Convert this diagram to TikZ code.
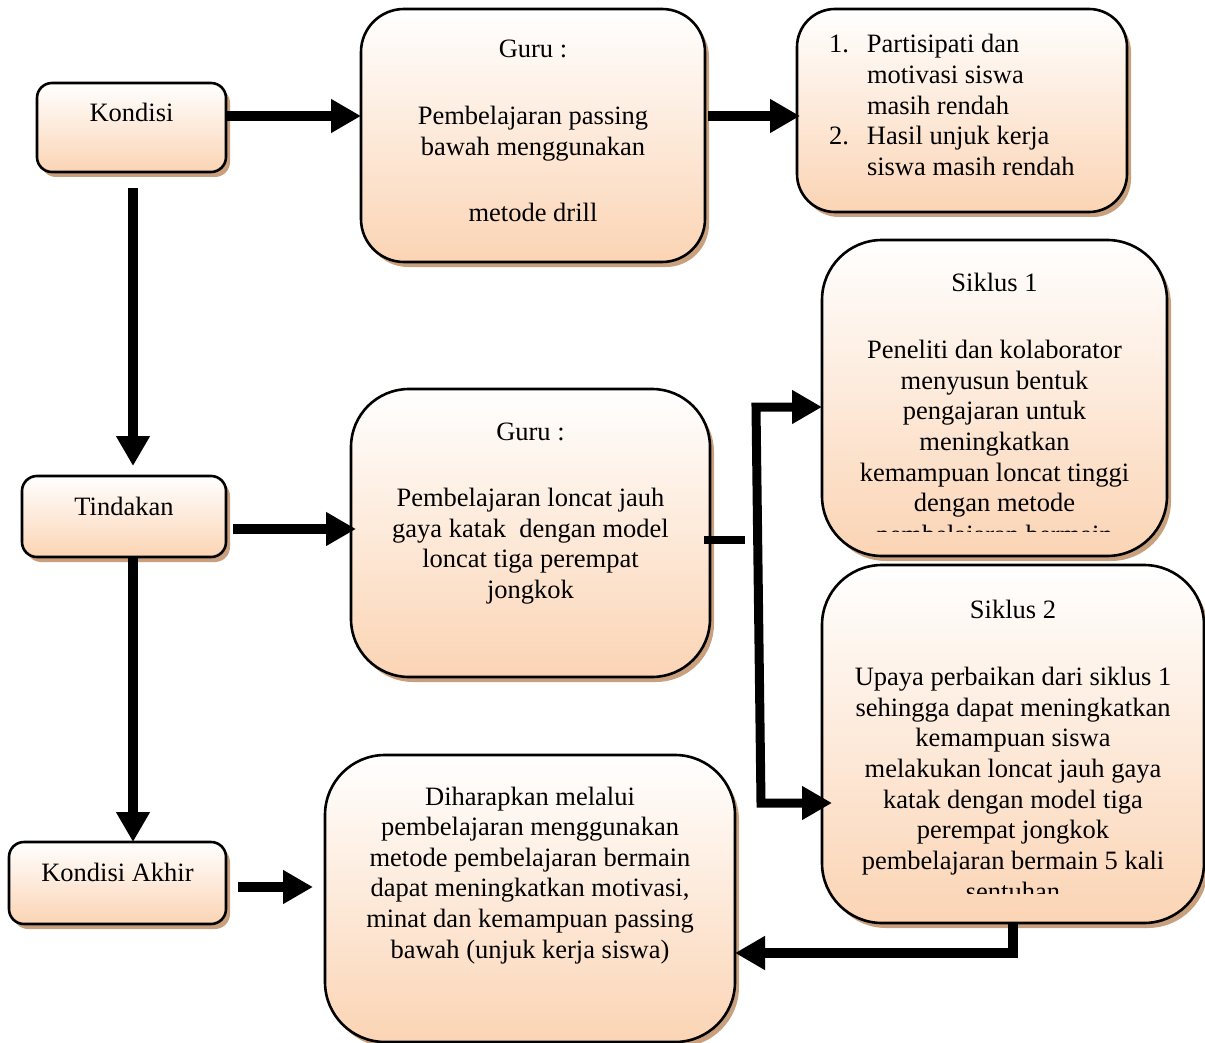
\documentclass[tikz,border=0pt]{standalone}
\usepackage{fontspec}
\setmainfont{Liberation Serif}
\usetikzlibrary{arrows.meta,shadows,calc}
\definecolor{peach}{RGB}{251,212,180}
\definecolor{shadowc}{RGB}{201,160,126}
\newcommand{\bx}[4]{\parbox[t][#2][t]{#1}{\centering\rule{0pt}{#3}#4}}
\tikzset{
  bigtip/.tip={Triangle[length=30pt,width=32pt]},
  txt/.style={inner sep=0pt, outer sep=0pt, font=\fontsize{26.5}{30.6}\selectfont},
  box/.style={txt, draw=black, line width=2.6pt, top color=white, bottom color=peach,
    drop shadow={shadow xshift=4pt, shadow yshift=-5pt, fill=shadowc, opacity=1}},
  arr/.style={line width=10pt, line join=miter, -{bigtip}},
}
\begin{document}
\begin{tikzpicture}[x=1pt,y=-1pt]
\useasboundingbox (0,0) rectangle (1205,1043);

% boxes
\node[box, rounded corners=15pt] (kondisi) at (131.5,127.5) {\bx{189pt}{89pt}{39pt}{Kondisi}};
\node[box, rounded corners=43pt] (guru1) at (533,135.5)
  {\bx{344pt}{253pt}{49pt}{Guru :\\[36pt]Pembelajaran passing\\bawah menggunakan\\[36pt]metode drill}};
\node[box, rounded corners=38pt] (masalah) at (962,110.5)
  {\parbox[t][203pt][t]{330pt}{\raggedright\rule{0pt}{44pt}\hspace*{32pt}\makebox[38pt][l]{1.}Partisipati dan\\
   \hspace*{70pt}motivasi siswa\\
   \hspace*{70pt}masih rendah\\
   \hspace*{32pt}\makebox[38pt][l]{2.}Hasil unjuk kerja\\
   \hspace*{70pt}siswa masih rendah}};
\node[box, rounded corners=15pt] (tindakan) at (124,516.5) {\bx{204pt}{81pt}{39pt}{Tindakan}};
\node[box, rounded corners=58pt] (guru2) at (530.5,533)
  {\bx{359pt}{288pt}{51pt}{Guru :\\[36pt]Pembelajaran loncat jauh\\gaya katak~ dengan model\\loncat tiga perempat\\jongkok}};
\node[box, rounded corners=60pt] (siklus1) at (994.5,398)
  {\bx{345pt}{316pt}{51pt}{Siklus 1\\[37pt]Peneliti dan kolaborator\\menyusun bentuk\\pengajaran untuk\\meningkatkan\\kemampuan loncat tinggi\\dengan metode}};
\node[box, rounded corners=60pt] (siklus2) at (1013,744)
  {\bx{382pt}{358pt}{53pt}{Siklus 2\\[37pt]Upaya perbaikan dari siklus 1\\sehingga dapat meningkatkan\\kemampuan siswa\\melakukan loncat jauh gaya\\katak dengan model tiga\\perempat jongkok\\pembelajaran bermain 5 kali}};
\node[box, rounded corners=15pt] (kakhir) at (117.5,883) {\bx{217pt}{82pt}{39pt}{Kondisi Akhir}};
\node[box, rounded corners=60pt] (final) at (530,898.5)
  {\bx{410pt}{287pt}{50pt}{Diharapkan melalui\\pembelajaran menggunakan\\metode pembelajaran bermain\\dapat meningkatkan motivasi,\\minat dan kemampuan passing\\bawah (unjuk kerja siswa)}};

% clipped overflow lines
\begin{scope}
  \clip (822,240) rectangle (1167,531);
  \node[txt, anchor=base] (s1cut) at (994.5,543) {pembelajaran bermain};
\end{scope}
\begin{scope}
  \clip (822,565) rectangle (1204,893);
  \node[txt, anchor=base] (s2cut) at (1013,900) {sentuhan};
\end{scope}

% helper coordinates
\coordinate (y116) at (0,116);
\coordinate (y529) at (0,529);
\coordinate (y540) at (0,540);
\coordinate (y887) at (0,887);
\coordinate (x133) at (133,0);
\coordinate (stubend) at (745,540);
\coordinate (bt) at (756,407);
\coordinate (bb) at (761,803);
\coordinate (s2c) at ($(siklus2.south)+(0,30)$);

% connectors
\draw[arr] (kondisi.east |- y116) -- (guru1.west |- y116);
\draw[arr] ($(guru1.east |- y116)+(3,0)$) -- ($(masalah.west |- y116)+(3,0)$);
\draw[arr] ($(kondisi.south -| x133)+(0,16)$) -- ($(tindakan.north -| x133)+(0,-10)$);
\draw[arr] (tindakan.south -| x133) -- (kakhir.north -| x133);
\draw[arr] ($(tindakan.east |- y529)+(7,0)$) -- ($(guru2.west |- y529)+(5,0)$);
\draw[arr] ($(kakhir.east |- y887)+(12,0)$) -- ($(final.west |- y887)+(-12,0)$);
\draw[line width=8pt] ($(guru2.east |- y540)+(-6,0)$) -- (stubend);
\draw[line width=9pt, line join=miter, {bigtip}-{bigtip}] (siklus1.west |- bt) -- (bt) -- (bb) -- ($(siklus2.west |- bb)+(10,0)$);
\draw[arr] (siklus2.south) -- (s2c) -- (final.east |- s2c);
\end{tikzpicture}
\end{document}
